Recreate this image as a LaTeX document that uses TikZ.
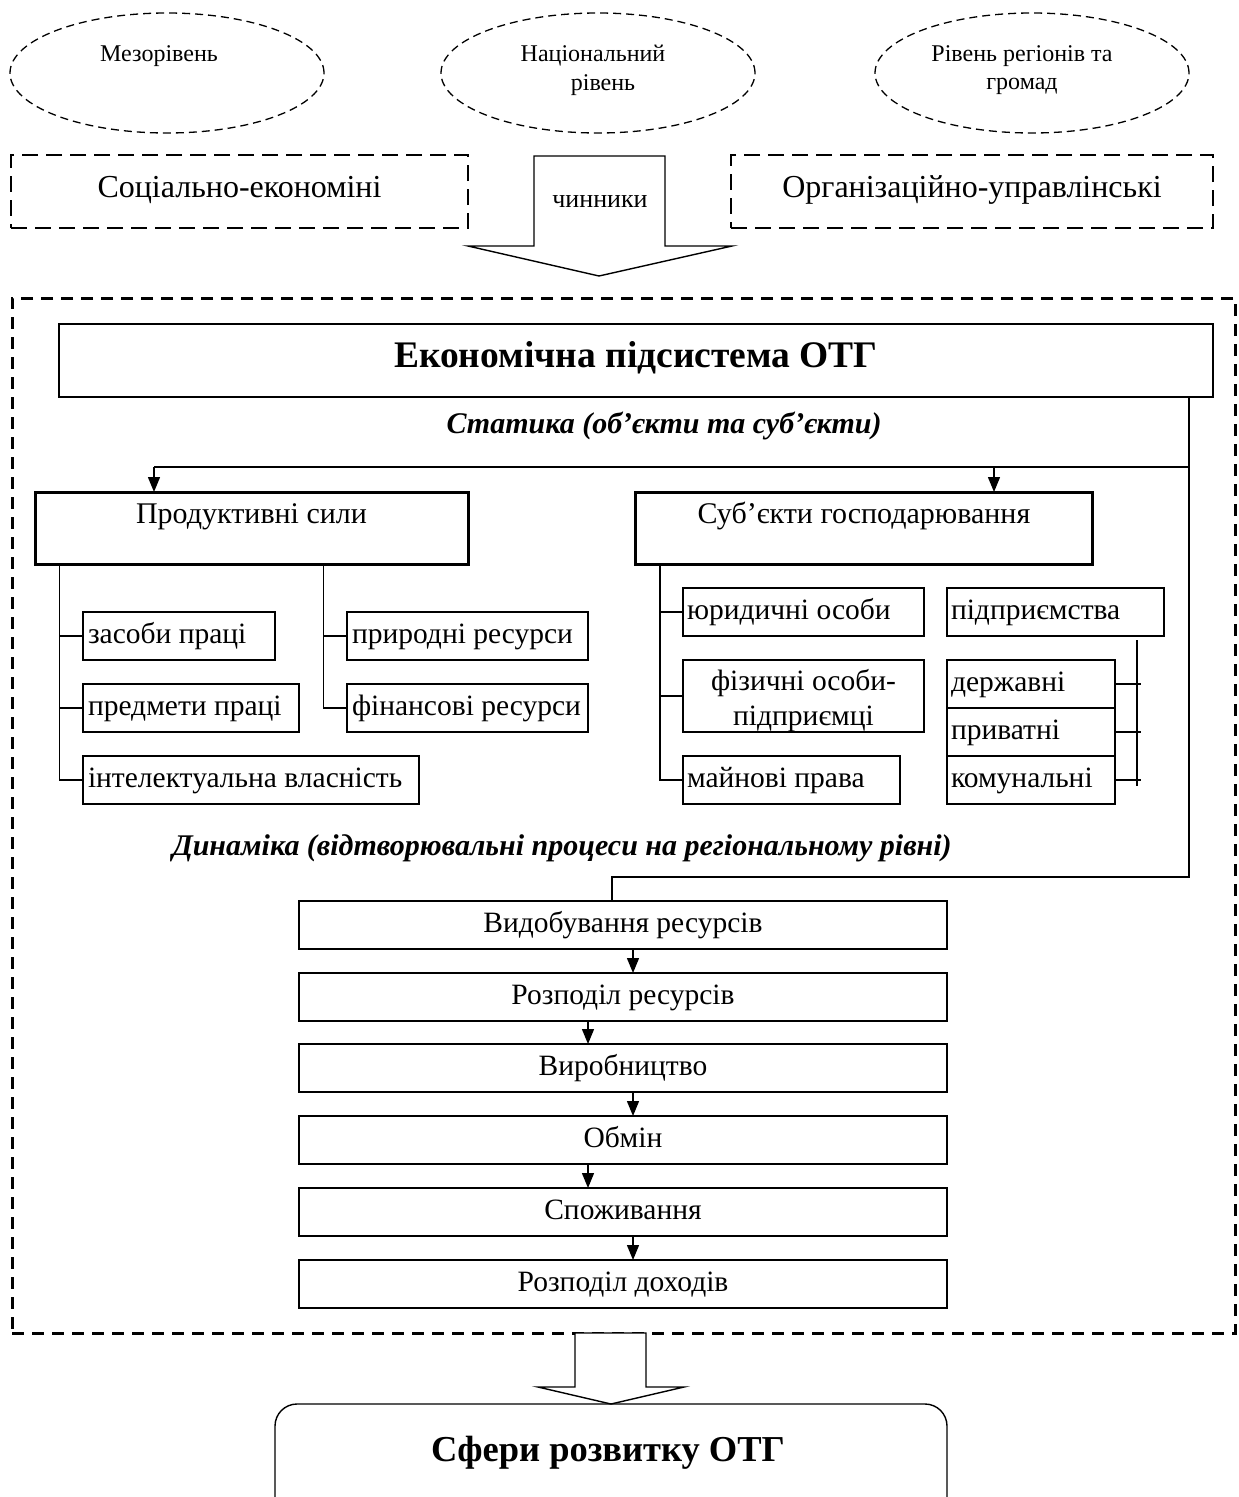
\documentclass[tikz,border=0pt]{standalone}
\usepackage{fontspec}
\setmainfont{Liberation Serif}
\usetikzlibrary{arrows.meta,shapes.geometric}
\begin{document}
\begin{tikzpicture}[x=1pt,y=-1pt,
  every node/.style={inner sep=0pt, outer sep=0pt},
  ln/.style={line width=1.4pt},
  fnt/.style={font=\fontsize{29.5}{35}\selectfont},
  ell/.style={draw, ellipse, line width=1.3pt, dash pattern=on 8pt off 5pt, minimum width=314pt, minimum height=120pt},
  etxt/.style={anchor=base, font=\fontsize{24}{28}\selectfont},
  dbox/.style={draw, line width=1.5pt, dash pattern=on 16pt off 8pt, anchor=north west, minimum height=73pt, font=\fontsize{32}{36}\selectfont, text height=22pt, text depth=11pt},
  box/.style={draw, ln, fnt},
  bigbox/.style={draw, line width=3pt, font=\fontsize{30}{35}\selectfont, minimum height=72pt, text height=22pt, text depth=32pt},
  leaf/.style={box, anchor=north west, minimum height=48pt, align=flush left, inner xsep=5pt, text height=20pt, text depth=6pt},
  gbox/.style={box, anchor=north west, minimum height=48pt, align=flush left, inner xsep=4pt, text height=20pt, text depth=6pt},
  dyn/.style={box, minimum width=648pt, minimum height=48pt, text height=20pt, text depth=6pt},
  tip/.style={-{Triangle[length=15pt,width=12pt]}, ln},
  head/.style={anchor=base, font=\bfseries\itshape\fontsize{30}{34}\selectfont}
]
\useasboundingbox (0,0) rectangle (1239,1497);

% levels
\node[ell] (e1) at (167,73) {};
\node[ell] (e2) at (598,73) {};
\node[ell] (e3) at (1032,73) {};
\node[etxt] (e1t) at (159,61) {Мезорівень};
\node[etxt] (e2a) at (593,61) {Національний};
\node[etxt] (e2b) at (603,90) {рівень};
\node[etxt] (e3a) at (1022,61) {Рівень регіонів та};
\node[etxt] (e3b) at (1022,89) {громад};

% factors
\node[dbox, minimum width=457pt] (soc) at (11,155) {Соціально-економіні};
\node[dbox, minimum width=482pt] (org) at (731,155) {Організаційно-управлінські};
\draw[ln, fill=white] (534,156) -- (665,156) -- (665,246) -- (732,246) -- (599,276) -- (468,246) -- (534,246) -- cycle;
\node[anchor=base, font=\fontsize{26}{29}\selectfont] (chin) at (600,207) {чинники};

% frame
\node[draw, line width=3pt, dash pattern=on 12pt off 8pt, anchor=north west, minimum width=1223pt, minimum height=1035pt] (frame) at (12,298) {};

% title
\node[draw, ln, anchor=north west, minimum width=1154pt, minimum height=73pt, font=\bfseries\fontsize{37.5}{42}\selectfont, text height=25pt, text depth=12pt] (title) at (59,324) {Економічна підсистема ОТГ};
\node[head] (stat) at (664,433) {Статика (об’єкти та суб’єкти)};

\node[bigbox, minimum width=433pt] (pf) at (251.5,528) {Продуктивні сили};
\node[bigbox, minimum width=457pt] (se) at (864,528) {Суб’єкти господарювання};

\coordinate (jR) at (1189,467);
\coordinate (jL) at (154,467);
\coordinate (jS) at (994,467);
\draw[line width=2.6pt] (jR) -- (jL);
\draw[tip] (jL) -- (jL |- pf.north);
\draw[tip] (jS) -- (jS |- se.north);

% productive forces
\node[leaf, text width=182pt] (zp) at (83,612) {засоби праці};
\node[leaf, text width=206pt] (pp) at (83,684) {предмети праці};
\node[leaf, text width=326pt] (iv) at (83,756) {інтелектуальна власність};
\node[leaf, text width=231pt] (pr) at (347,612) {природні ресурси};
\node[leaf, text width=231pt] (fr) at (347,684) {фінансові ресурси};
\coordinate (t1) at (59.5,564);
\coordinate (t2) at (323.5,564);
\draw[ln] (t1) |- (zp.west);
\draw[ln] (t1) |- (pp.west);
\draw[ln] (t1) |- (iv.west);
\draw[ln] (t2) |- (pr.west);
\draw[ln] (t2) |- (fr.west);

% subjects
\node[gbox, text width=233pt] (yo) at (683,588) {юридичні особи};
\node[box, anchor=north west, minimum width=241pt, minimum height=72pt, align=center] (fo) at (683,660) {\rule{0pt}{30pt}фізичні особи-\\підприємці};
\node[gbox, text width=209pt] (mp) at (683,756) {майнові права};
\coordinate (t3) at (660,564);
\draw[ln] (t3) |- (yo.west);
\draw[ln] (t3) |- (fo.west);
\draw[ln] (t3) |- (mp.west);

\node[gbox, text width=209pt] (pdp) at (947,588) {підприємства};
\node[gbox, text width=160pt] (dz) at (947,660) {державні};
\node[gbox, text width=160pt] (pv) at (947,708) {приватні};
\node[gbox, text width=160pt] (km) at (947,756) {комунальні};
\coordinate (vt) at (1137,640);
\coordinate (vb) at (1137,786);
\draw[ln] (vt) -- (vb);
\draw[ln] (dz.east) -- (dz.east -| vt) -- ++(4,0);
\draw[ln] (pv.east) -- (pv.east -| vt) -- ++(4,0);
\draw[ln] (km.east) -- (km.east -| vt) -- ++(4,0);

% dynamics
\node[head] (dyn) at (562,855) {Динаміка (відтворювальні процеси на регіональному рівні)};
\node[dyn] (d1) at (623,925) {Видобування ресурсів};
\node[dyn] (d2) at (623,997) {Розподіл ресурсів};
\node[dyn] (d3) at (623,1068) {Виробництво};
\node[dyn] (d4) at (623,1140) {Обмін};
\node[dyn] (d5) at (623,1212) {Споживання};
\node[dyn] (d6) at (623,1284) {Розподіл доходів};
\coordinate (dR) at (1189,877);
\coordinate (dL) at (612,877);
\draw[ln] (title.south -| jR) -- (dR) -- (dL) -- (dL |- d1.north);
\coordinate (a1) at (633,0);
\coordinate (a2) at (588,0);
\draw[tip] (d1.south -| a1) -- (d2.north -| a1);
\draw[tip] (d2.south -| a2) -- (d3.north -| a2);
\draw[tip] (d3.south -| a1) -- (d4.north -| a1);
\draw[tip] (d4.south -| a2) -- (d5.north -| a2);
\draw[tip] (d5.south -| a1) -- (d6.north -| a1);

% result
\draw[ln, fill=white] (575,1333) -- (646,1333) -- (646,1387) -- (684,1387) -- (611,1404) -- (538,1387) -- (575,1387) -- cycle;
\begin{scope}
\clip (0,0) rectangle (1239,1497);
\node[draw, ln, rounded corners=22pt, anchor=north west, minimum width=672pt, minimum height=140pt] (sf) at (275,1404) {};
\end{scope}
\node[anchor=base, font=\bfseries\fontsize{36.5}{40}\selectfont] (sft) at (608,1461) {Сфери розвитку ОТГ};
\end{tikzpicture}
\end{document}
